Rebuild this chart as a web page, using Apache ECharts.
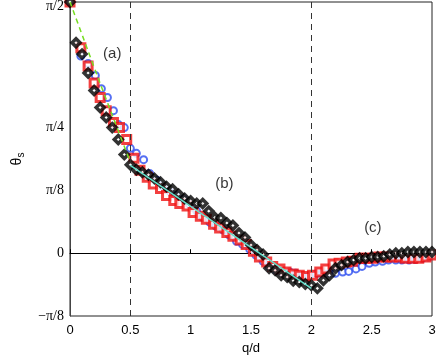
<!DOCTYPE html>
<html>
<head>
<meta charset="utf-8">
<script src="https://cdn.jsdelivr.net/npm/echarts@6/dist/echarts.min.js"></script>
<style>
  html, body { margin: 0; padding: 0; background: #fff; }
  #chart { width: 436px; height: 357px; }
</style>
</head>
<body>
<div id="chart"></div>
<script>
// theta values are in units of pi/8
const blackX = [0, 0.05, 0.1, 0.15, 0.2, 0.25, 0.3, 0.35, 0.4, 0.45, 0.5, 0.55, 0.6, 0.65, 0.7, 0.75, 0.8, 0.85, 0.9, 0.95,
  1, 1.05, 1.1, 1.15, 1.2, 1.25, 1.3, 1.35, 1.4, 1.45, 1.5, 1.55, 1.6, 1.65, 1.7, 1.75, 1.8, 1.85, 1.9, 1.95,
  2, 2.05, 2.1, 2.15, 2.2, 2.25, 2.3, 2.35, 2.4, 2.45, 2.5, 2.55, 2.6, 2.65, 2.7, 2.75, 2.8, 2.85, 2.9, 2.95, 3]
const blackY = [4, 3.35, 3.17, 2.87, 2.59, 2.32, 2.16, 2.0, 1.81, 1.57, 1.41, 1.33, 1.29, 1.25, 1.19, 1.13, 1.06, 1.02, 0.94, 0.87,
  0.83, 0.79, 0.79, 0.67, 0.57, 0.56, 0.48, 0.44, 0.32, 0.25, 0.13, 0.05, -0.02, -0.24, -0.27, -0.35, -0.38, -0.44, -0.46, -0.49,
  -0.51, -0.56, -0.43, -0.35, -0.24, -0.19, -0.14, -0.11, -0.08, -0.08, -0.06, -0.06, -0.05, -0.02, 0, 0, 0.02, 0.02, 0.02, 0.02, 0.02]

const redX = [0, 0.09, 0.15, 0.2, 0.25, 0.3, 0.36, 0.41, 0.47, 0.53, 0.58, 0.64, 0.69, 0.75, 0.8, 0.86, 0.91, 0.97,
  1.02, 1.08, 1.13, 1.19, 1.24, 1.3, 1.35, 1.41, 1.46, 1.52, 1.57, 1.63, 1.68, 1.74, 1.79, 1.85, 1.9, 1.96,
  2.01, 2.07, 2.12, 2.18, 2.23, 2.29, 2.34, 2.4, 2.45, 2.51, 2.56, 2.62, 2.67, 2.73, 2.78, 2.84, 2.89, 2.95, 3]
const redY = [4, 3.27, 2.98, 2.71, 2.48, 2.27, 2.08, 2.0, 1.81, 1.51, 1.32, 1.21, 1.10, 1.03, 0.92, 0.84, 0.79, 0.75,
  0.65, 0.59, 0.54, 0.46, 0.40, 0.33, 0.27, 0.21, 0.14, 0.03, -0.06, -0.14, -0.21, -0.25, -0.30, -0.33, -0.35, -0.37,
  -0.35, -0.30, -0.25, -0.17, -0.16, -0.14, -0.13, -0.08, -0.08, -0.08, -0.06, -0.06, -0.06, -0.06, -0.08, -0.08, -0.08, -0.06, -0.03]

const blueX = [0, 0.09, 0.15, 0.21, 0.26, 0.31, 0.36, 0.4, 0.45, 0.5, 0.55, 0.61, 0.66, 0.72, 0.77, 0.83, 0.88, 0.94, 0.99,
  1.05, 1.1, 1.16, 1.21, 1.27, 1.32, 1.38, 1.43, 1.49, 1.54, 1.6, 1.65, 1.71, 1.76, 1.82, 1.87, 1.93, 1.98,
  2.04, 2.09, 2.15, 2.2, 2.26, 2.31, 2.37, 2.42, 2.48, 2.53, 2.59, 2.64, 2.7, 2.75, 2.81, 2.86, 2.92, 2.97]
const blueY = [4, 3.14, 3.02, 2.83, 2.62, 2.48, 2.27, 2.05, 2.0, 1.67, 1.59, 1.49, 1.27, 1.16, 1.06, 0.98, 0.92, 0.86, 0.78,
  0.67, 0.57, 0.49, 0.43, 0.37, 0.29, 0.19, 0.14, 0.06, -0.03, -0.13, -0.21, -0.27, -0.30, -0.30, -0.32, -0.37, -0.37,
  -0.33, -0.32, -0.32, -0.32, -0.30, -0.29, -0.25, -0.21, -0.16, -0.14, -0.13, -0.11, -0.11, -0.11, -0.11, -0.10, -0.08, -0.06]

// fitted curves
const fitAX = [0, 0.1, 0.2, 0.3, 0.4, 0.5]
const fitAY = [4, 3.48, 2.96, 2.45, 1.95, 1.45]
const fitBX = [0.5, 2]
const fitBY = [1.40, -0.56]

const regionLabels = [['(a)', 0.35, 3.17], ['(b)', 1.28, 1.11], ['(c)', 2.51, 0.40]]
const yTickText = { '-1': '\u2212\u03c0/8', '0': '0', '1': '\u03c0/8', '2': '\u03c0/4', '4': '{top|\u03c0/2}' }

const zip = (xs, ys) => xs.map((x, i) => [x, ys[i]])

let myChart = echarts.init(document.getElementById('chart'))
myChart.setOption({
  animation: false,
  grid: {
    left: 70, right: 4, top: 2, bottom: 41,
    outerBoundsMode: 'none', containLabel: false,
    show: true, borderColor: '#222', borderWidth: 1
  },
  xAxis: {
    type: 'value', min: 0, max: 3, interval: 0.5,
    name: 'q/d', nameLocation: 'middle', nameGap: 25,
    nameTextStyle: { fontFamily: 'Liberation Sans', fontSize: 13, color: '#000' },
    axisLine: { lineStyle: { color: '#000' } },
    axisTick: { inside: true, length: 4, lineStyle: { color: '#000' } },
    axisLabel: { fontFamily: 'Liberation Sans', fontSize: 13, color: '#000', margin: 8 },
    splitLine: { show: false }
  },
  yAxis: {
    type: 'value', min: -1, max: 4, interval: 1,
    name: '{t|\u03b8}{s|s}', nameLocation: 'middle', nameGap: 44, nameRotate: 90,
    nameTextStyle: {
      rich: {
        t: { fontFamily: 'Liberation Sans', fontSize: 14, color: '#000' },
        s: { fontFamily: 'Liberation Sans', fontSize: 10, color: '#000', padding: [8, 0, 0, 0] }
      }
    },
    axisLine: { show: true, lineStyle: { color: '#444' } },
    axisTick: { show: false },
    axisLabel: {
      fontFamily: 'Liberation Serif', fontSize: 14, color: '#000', margin: 6,
      formatter: v => yTickText[String(v)] || '',
      rich: { top: { fontFamily: 'Liberation Serif', fontSize: 14, color: '#000', padding: [8, 0, 0, 0] } }
    },
    splitLine: { show: false }
  },
  series: [
    {
      type: 'scatter', data: zip(blueX, blueY), symbol: 'circle', symbolSize: 7,
      itemStyle: { color: '#fff', borderColor: '#2c4cf0', borderWidth: 2 }, z: 2
    },
    {
      type: 'scatter', data: zip(redX, redY), symbol: 'rect', symbolSize: 8,
      itemStyle: { color: '#fff', borderColor: '#f01010', borderWidth: 3 }, z: 3
    },
    {
      type: 'scatter', data: zip(blackX, blackY), symbol: 'diamond', symbolSize: 8,
      itemStyle: { color: '#fff', borderColor: '#000', borderWidth: 3.5 }, z: 4,
      markLine: {
        silent: true, symbol: 'none', label: { show: false },
        data: [
          { xAxis: 0.5, lineStyle: { type: [6, 5], color: '#333', width: 1 } },
          { xAxis: 2, lineStyle: { type: [6, 5], color: '#333', width: 1 } },
          { yAxis: 0, lineStyle: { type: [1, 3], color: '#000', width: 1 } }
        ]
      }
    },
    {
      type: 'line', data: zip(fitAX, fitAY), showSymbol: false, smooth: true, z: 5,
      lineStyle: { color: '#77dd22', width: 1.5, type: [5, 4] }
    },
    {
      type: 'line', data: zip(fitBX, fitBY), showSymbol: false, z: 5,
      lineStyle: { color: '#66e0cc', width: 1.5 }
    },
    {
      type: 'scatter', symbolSize: 0, z: 6,
      data: regionLabels.map(r => ({ value: [r[1], r[2]], name: r[0] })),
      label: {
        show: true, position: 'inside', formatter: p => p.name,
        fontFamily: 'Liberation Sans', fontSize: 15, color: '#000'
      }
    }
  ]
})
</script>
</body>
</html>
